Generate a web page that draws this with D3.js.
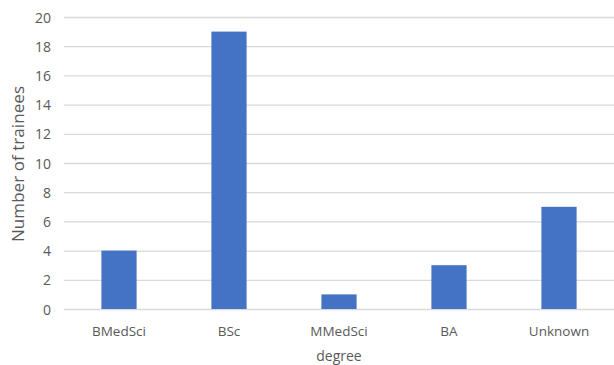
<!DOCTYPE html>
<html>
<head>
<meta charset="utf-8">
<script src="https://cdn.jsdelivr.net/npm/d3@7"></script>
<style>
  body { margin: 0; background: #fff; }
  text { font-family: "Open Sans", "Noto Sans", sans-serif; fill: #595959; }
</style>
</head>
<body>
<div id="vis"></div>
<script>
// categories and counts
const degrees = ["BMedSci", "BSc", "MMedSci", "BA", "Unknown"];
const trainees = [4, 19, 1, 3, 7];
const yTicks = [0, 2, 4, 6, 8, 10, 12, 14, 16, 18, 20];

const width = 614, height = 365;
const margin = { top: 17, right: 0, bottom: 56, left: 64 };

const svg = d3.select("#vis").append("svg")
  .attr("width", width)
  .attr("height", height);

const x = d3.scaleBand()
  .domain(degrees)
  .range([margin.left, width - margin.right])
  .paddingInner(0.68)
  .paddingOuter(0.34);

const y = d3.scaleLinear()
  .domain([0, 20])
  .range([height - margin.bottom, margin.top]);

// grid lines
svg.append("g")
  .selectAll("line")
  .data(yTicks)
  .join("line")
  .attr("x1", margin.left)
  .attr("x2", width - margin.right)
  .attr("y1", d => y(d) + 0.5)
  .attr("y2", d => y(d) + 0.5)
  .attr("stroke", "#d9d9d9")
  .attr("stroke-width", 1.3);

// bars
svg.append("g")
  .selectAll("rect")
  .data(degrees)
  .join("rect")
  .attr("x", d => x(d))
  .attr("width", x.bandwidth())
  .attr("y", (d, i) => y(trainees[i]))
  .attr("height", (d, i) => y(0) - y(trainees[i]))
  .attr("fill", "#4472c4");

// y tick labels
svg.append("g")
  .selectAll("text")
  .data(yTicks)
  .join("text")
  .attr("x", 51)
  .attr("y", d => y(d))
  .attr("text-anchor", "end")
  .attr("dominant-baseline", "central")
  .style("font-size", "14px")
  .text(d => d);

// x tick labels
svg.append("g")
  .selectAll("text")
  .data(degrees)
  .join("text")
  .attr("x", d => x(d) + x.bandwidth() / 2)
  .attr("y", 331)
  .attr("text-anchor", "middle")
  .attr("dominant-baseline", "central")
  .style("font-size", "13.5px")
  .text(d => d);

// axis titles
svg.append("text")
  .attr("x", 339)
  .attr("y", 355)
  .attr("text-anchor", "middle")
  .attr("dominant-baseline", "central")
  .style("font-size", "14px")
  .text("degree");

svg.append("text")
  .attr("transform", "translate(17,164) rotate(-90)")
  .attr("text-anchor", "middle")
  .attr("dominant-baseline", "central")
  .attr("textLength", 156)
  .attr("lengthAdjust", "spacing")
  .style("font-size", "17px")
  .text("Number of trainees");
</script>
</body>
</html>
